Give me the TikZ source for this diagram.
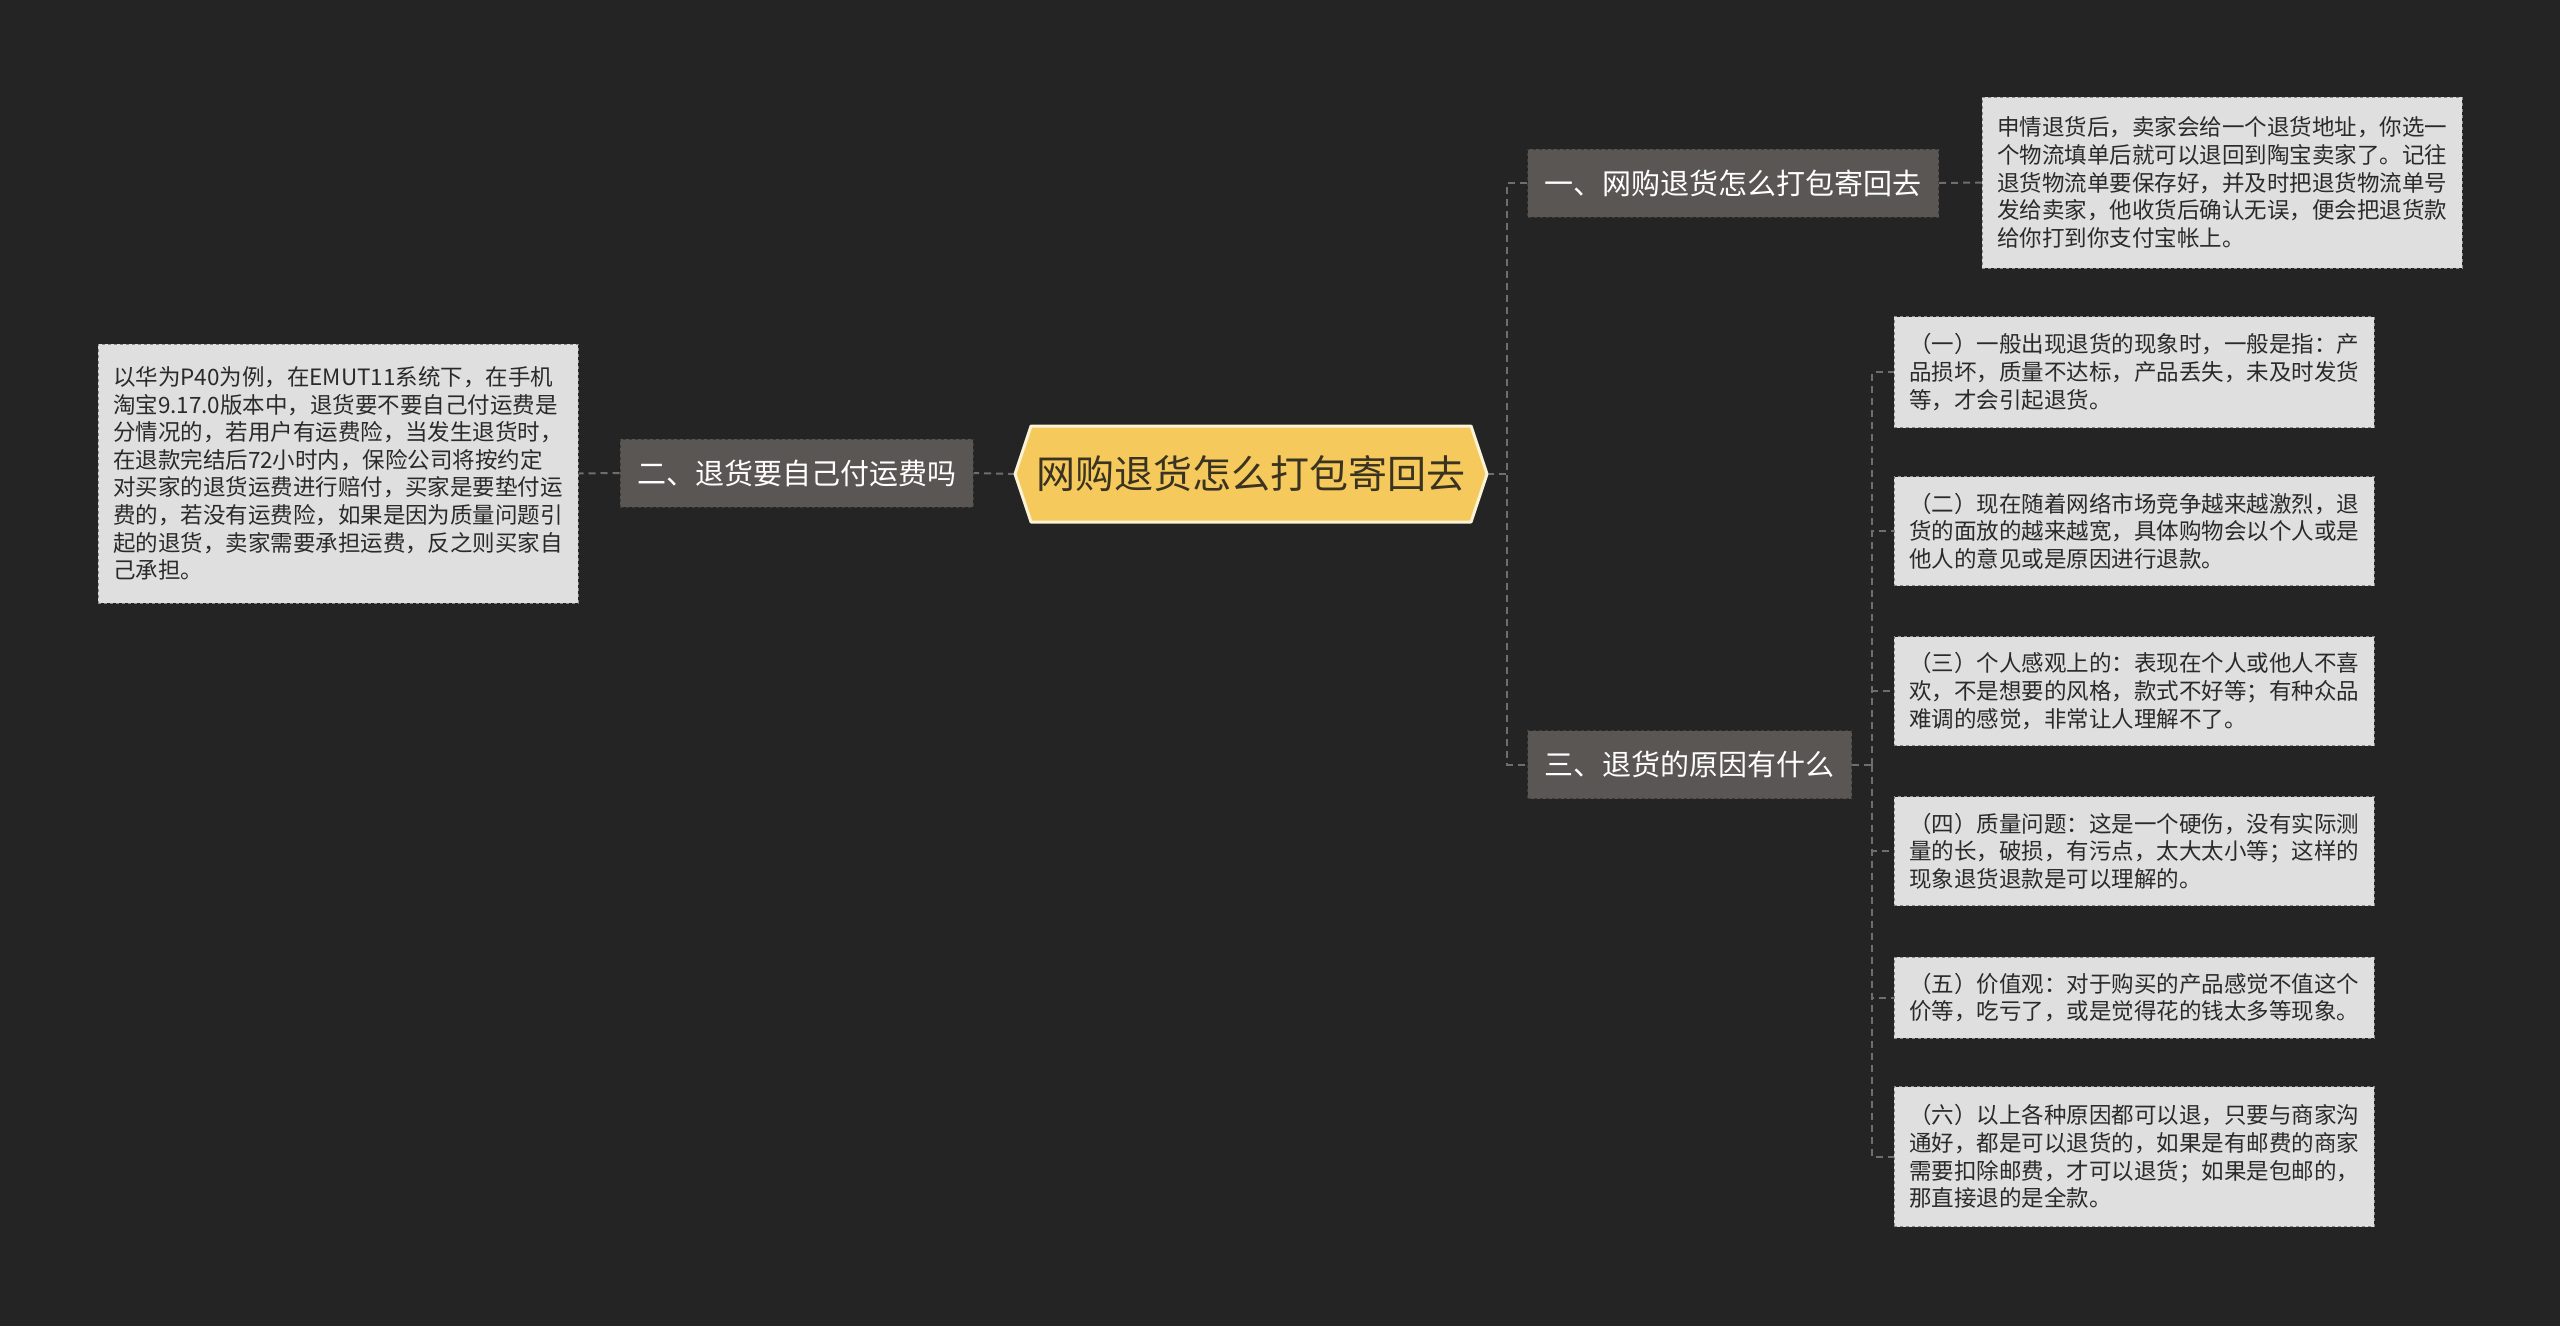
\documentclass[tikz,border=0pt]{standalone}
\usepackage{fontspec}
\setmainfont{Noto Sans CJK SC}
\usepackage{tikz}
\usetikzlibrary{backgrounds}
\definecolor{bgdark}{HTML}{242424}
\definecolor{rootfill}{HTML}{F5C95C}
\definecolor{rootrim}{HTML}{FBF3D6}
\definecolor{roottext}{HTML}{3A3322}
\definecolor{branchfill}{HTML}{5A5654}
\definecolor{branchrim}{HTML}{3E3C3A}
\definecolor{leaffill}{HTML}{DFDFDF}
\definecolor{leafrim}{HTML}{8A8A8A}
\definecolor{leaftext}{HTML}{2A2A2A}
\definecolor{linkgray}{HTML}{6E6E6E}

\begin{document}
\begin{tikzpicture}[x=1pt, y=-1pt]
	\tikzstyle{every node} = [rectangle, inner sep=0pt]
	\tikzstyle{topic}  = [minimum width=440pt, minimum height=96pt, text=roottext,
	                      font=\fontsize{39}{46}\selectfont]
	\tikzstyle{branch} = [fill=branchfill, draw=branchrim, dashed, line width=1pt,
	                      inner xsep=17pt, minimum height=68pt, text=white,
	                      font=\fontsize{29}{34}\selectfont]
	\tikzstyle{leaf}   = [fill=leaffill, draw=leafrim, dashed, line width=1pt,
	                      minimum width=480pt, align=left, text=leaftext,
	                      font=\fontsize{22.5}{27.6}\selectfont]
	\tikzstyle{link}   = [draw=linkgray, line width=2pt, dash pattern=on 7pt off 5pt]
	\useasboundingbox (0,0) rectangle (2560,1326);
	% central topic
	\coordinate (rootL) at (1015,474);
	\coordinate (rootR) at (1487,474);
	\filldraw[fill=rootfill, draw=rootrim, line width=3pt, line join=round]
		(rootL) -- (1031,426) -- (1471,426) -- (rootR) -- (1471,522) -- (1031,522) -- cycle;
	\node[topic] (root) at (1251,474) {网购退货怎么打包寄回去};
	% left side
	\node[branch] (pay)  at (796.5,473) {二、退货要自己付运费吗};
	\node[leaf, minimum height=259pt] (payinfo) at (338,473.5)
		{以华为P40为例，在EMUT11系统下，在手机\\
		 淘宝9.17.0版本中，退货要不要自己付运费是\\
		 分情况的，若用户有运费险，当发生退货时，\\
		 在退款完结后72小时内，保险公司将按约定\\
		 对买家的退货运费进行赔付，买家是要垫付运\\
		 费的，若没有运费险，如果是因为质量问题引\\
		 起的退货，卖家需要承担运费，反之则买家自\\
		 己承担。};
	% right side
	\node[branch] (pack)   at (1733,183)   {一、网购退货怎么打包寄回去};
	\node[branch] (reason) at (1689.5,764.5) {三、退货的原因有什么};
	\node[leaf, minimum height=171pt] (packinfo) at (2222,182.5)
		{申情退货后，卖家会给一个退货地址，你选一\\
		 个物流填单后就可以退回到陶宝卖家了。记往\\
		 退货物流单要保存好，并及时把退货物流单号\\
		 发给卖家，他收货后确认无误，便会把退货款\\
		 给你打到你支付宝帐上。};
	\node[leaf, minimum height=111pt] (r1) at (2134,372)
		{（一）一般出现退货的现象时，一般是指：产\\
		 品损坏，质量不达标，产品丢失，未及时发货\\
		 等，才会引起退货。};
	\node[leaf, minimum height=109pt] (r2) at (2134,531)
		{（二）现在随着网络市场竞争越来越激烈，退\\
		 货的面放的越来越宽，具体购物会以个人或是\\
		 他人的意见或是原因进行退款。};
	\node[leaf, minimum height=109pt] (r3) at (2134,691)
		{（三）个人感观上的：表现在个人或他人不喜\\
		 欢，不是想要的风格，款式不好等；有种众品\\
		 难调的感觉，非常让人理解不了。};
	\node[leaf, minimum height=109pt] (r4) at (2134,851)
		{（四）质量问题：这是一个硬伤，没有实际测\\
		 量的长，破损，有污点，太大太小等；这样的\\
		 现象退货退款是可以理解的。};
	\node[leaf, minimum height=81pt] (r5) at (2134,997.5)
		{（五）价值观：对于购买的产品感觉不值这个\\
		 价等，吃亏了，或是觉得花的钱太多等现象。};
	\node[leaf, minimum height=140pt] (r6) at (2134,1156.5)
		{（六）以上各种原因都可以退，只要与商家沟\\
		 通好，都是可以退货的，如果是有邮费的商家\\
		 需要扣除邮费，才可以退货；如果是包邮的，\\
		 那直接退的是全款。};
	% connectors
	\coordinate (jr) at (1507,474);
	\coordinate (jb) at (1872,764.5);
	\begin{scope}[on background layer]
	\fill[bgdark] (0,0) rectangle (2560,1326);
	\draw[link] (rootL) -- (pay.east);
	\draw[link] (pay.west) -- (payinfo.east);
	\draw[link] (rootR) -- (jr);
	\draw[link] (pack.west) -| (jr) |- (reason.west);
	\draw[link] (pack.east) -- (packinfo.west);
	\draw[link] (reason.east) -- (jb);
	\foreach \n in {r1,r2,r3,r4,r5,r6}
		\draw[link] (jb) |- (\n.west);
	\end{scope}
\end{tikzpicture}
\end{document}
